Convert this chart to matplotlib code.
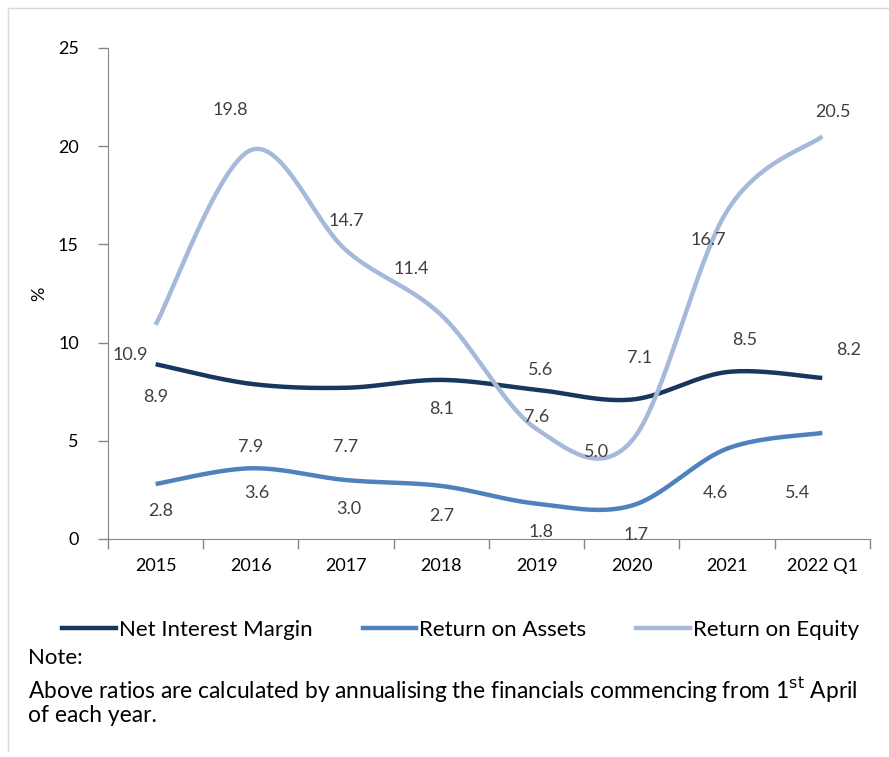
import numpy as np
import matplotlib
matplotlib.use('Agg')
import matplotlib.pyplot as plt
from matplotlib.lines import Line2D

plt.rcParams['font.family'] = ['Lato', 'DejaVu Sans']

years = ['2015', '2016', '2017', '2018', '2019', '2020', '2021', '2022 Q1']
nim = [8.9, 7.9, 7.7, 8.1, 7.6, 7.1, 8.5, 8.2]
roa = [2.8, 3.6, 3.0, 2.7, 1.8, 1.7, 4.6, 5.4]
roe = [10.9, 19.8, 14.7, 11.4, 5.6, 5.0, 16.7, 20.5]

# label offsets in pixels (dx, dy downwards), mimicking the excel placement
nim_off = [(0, 33), (0, 63), (0, 59), (0, 29), (0, 27), (8, -42), (18, -32), (26, -28)]
roa_off = [(5, 27), (6, 25), (3, 29), (0, 30), (4, 28), (4, 29), (-12, 44), (-25, 60)]
roe_off = [(-25, 30), (-21, -40), (0, -29), (-30, -46), (4, -59), (-35, 11), (-19, 29), (11, -24)]

c_nim = '#17375E'
c_roa = '#4F81BD'
c_roe = '#A7B9DB'


def smooth(y, n=40):
    # bezier smoothing similar to excel's "smoothed line"
    x = np.arange(len(y), dtype=float)
    y = np.asarray(y, dtype=float)
    px = np.concatenate([[x[0]], x, [x[-1]]])
    py = np.concatenate([[y[0]], y, [y[-1]]])
    xs, ys = [], []
    t = np.linspace(0, 1, n)
    for i in range(len(x) - 1):
        p0 = np.array([px[i + 1], py[i + 1]])
        p3 = np.array([px[i + 2], py[i + 2]])
        c1 = p0 + (np.array([px[i + 2], py[i + 2]]) - np.array([px[i], py[i]])) / 6
        c2 = p3 - (np.array([px[i + 3], py[i + 3]]) - np.array([px[i + 1], py[i + 1]])) / 6
        b = ((1 - t) ** 3)[:, None] * p0 + (3 * (1 - t) ** 2 * t)[:, None] * c1 \
            + (3 * (1 - t) * t ** 2)[:, None] * c2 + (t ** 3)[:, None] * p3
        xs.extend(b[:, 0])
        ys.extend(b[:, 1])
    return np.array(xs), np.array(ys)


fig = plt.figure(figsize=(8.89, 7.57), dpi=100)
ax = fig.add_axes([0.1215, 0.288, 0.857, 0.6486])

for vals, col in [(nim, c_nim), (roa, c_roa), (roe, c_roe)]:
    sx, sy = smooth(vals)
    ax.plot(sx, sy, color=col, lw=3.2, solid_capstyle='butt', zorder=3)

for vals, offs in [(nim, nim_off), (roa, roa_off), (roe, roe_off)]:
    for i, (v, o) in enumerate(zip(vals, offs)):
        ax.annotate(f'{v:.1f}', (i, v), xytext=(o[0], -o[1]), textcoords='offset pixels',
                    ha='center', va='center', fontsize=13, color='#404040', zorder=4)

ax.set_xlim(-0.5, len(years) - 0.5)
ax.set_ylim(0, 25)
ax.set_yticks(range(0, 26, 5))
ax.set_xticks(range(len(years)))
ax.set_xticklabels(years)
ax.set_xticks(np.arange(-0.5, len(years), 1), minor=True)
ax.tick_params(axis='x', which='major', length=0, pad=14, labelsize=13)
ax.tick_params(axis='x', which='minor', length=7, color='#868686', width=1)
ax.tick_params(axis='y', length=7, color='#868686', width=1, pad=14, labelsize=13)
for s in ['top', 'right']:
    ax.spines[s].set_visible(False)
for s in ['left', 'bottom']:
    ax.spines[s].set_color('#868686')
ax.set_ylabel('%', fontsize=13)
ax.yaxis.set_label_coords(-0.08, 0.5)

handles = [Line2D([], [], color=c, lw=3.2) for c in [c_nim, c_roa, c_roe]]
fig.legend(handles, ['Net Interest Margin', 'Return on Assets', 'Return on Equity'],
           loc='center left', bbox_to_anchor=(0.07, 0.168), ncol=3, frameon=False,
           fontsize=16, handlelength=2.4, handletextpad=0.15, columnspacing=2.25,
           borderaxespad=0, borderpad=0)

fig.text(0.031, 0.131, 'Note:', fontsize=16, va='center')
fig.text(0.031, 0.089, 'Above ratios are calculated by annualising the financials commencing from 1$^{\\mathrm{st}}$ April',
         fontsize=16.4, va='center')
fig.text(0.031, 0.055, 'of each year.', fontsize=16.4, va='center')

fig.add_artist(Line2D([0.009, 0.009], [0.008, 0.99], color='#D9D9D9', lw=1))
fig.add_artist(Line2D([0.009, 1.0], [0.99, 0.99], color='#D9D9D9', lw=1))

fig.savefig('out.png', dpi=100)
